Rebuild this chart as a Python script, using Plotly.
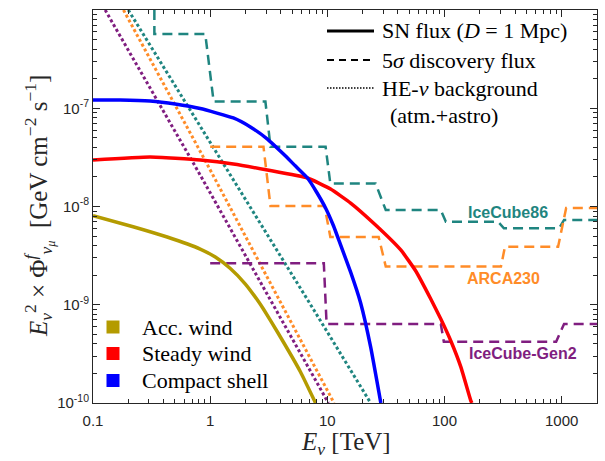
import numpy as np
import plotly.graph_objects as go

# ---------------------------------------------------------------------------
# Supernova neutrino fluxes  E^2 * Phi  [GeV cm^-2 s^-1]  vs  E [TeV]
# ---------------------------------------------------------------------------
acc_wind_E = [0.1, 0.22, 0.4295, 0.822, 1.106, 1.486, 1.997, 2.53, 2.846, 3.75, 5.9, 7.93]
acc_wind_F = [8.06e-9, 6.23e-9, 4.89e-9, 3.69e-9, 3.06e-9, 2.34e-9, 1.626e-9,
              1.117e-9, 9.05e-10, 5.28e-10, 2.07e-10, 1.0e-10]

steady_wind_E = [0.1, 0.307, 0.822, 1.576, 3.08, 6.77, 10.65, 15.8, 25.8, 42.3,
                 56.8, 76.3, 92.96, 113.2, 137.9, 167.9, 171.2]
steady_wind_F = [2.973e-8, 3.19e-8, 2.97e-8, 2.71e-8, 2.35e-8, 1.95e-8, 1.506e-8,
                 1.085e-8, 6.48e-9, 3.61e-9, 2.206e-9, 1.144e-9, 7.16e-10, 4.28e-10,
                 2.32e-10, 1.048e-10, 1.0e-10]

compact_shell_E = [0.1, 0.17, 0.307, 0.503, 0.822, 1.576, 2.203, 3.08, 4.22, 5.35,
                   6.77, 8.08, 9.65, 11.3, 12.97, 15.8, 19.23, 23.4, 28.6]
compact_shell_F = [1.213e-7, 1.213e-7, 1.185e-7, 1.105e-7, 9.94e-8, 7.96e-8, 6.45e-8,
                   4.86e-8, 3.42e-8, 2.58e-8, 1.95e-8, 1.405e-8, 9.66e-9, 6.33e-9,
                   4.06e-9, 2.15e-9, 1.042e-9, 3.72e-10, 1.0e-10]

# 5 sigma discovery fluxes (step-like, vertices along the curve)
ic86_E = [0.334, 0.334, 0.908, 1.07, 2.96, 3.27, 9.66, 10.6, 25.8, 31.5, 92.9, 102.6,
          286, 321, 950, 1047, 2000]
ic86_F = [1.0e-6, 5.7e-7, 5.7e-7, 1.17e-7, 1.17e-7, 4.06e-8, 4.06e-8, 1.71e-8, 1.71e-8,
          9.2e-9, 9.2e-9, 7.0e-9, 7.0e-9, 6.0e-9, 6.0e-9, 7.3e-9, 7.3e-9]

arca_E = [1.0, 2.85, 3.27, 9.46, 10.6, 27.4, 31.5, 303, 328, 931, 1091, 2000]
arca_F = [4.06e-8, 4.06e-8, 1.01e-8, 1.01e-8, 4.9e-9, 4.9e-9, 2.45e-9, 2.45e-9,
          3.9e-9, 3.9e-9, 9.66e-9, 9.66e-9]

gen2_E = [1.0, 9.33, 9.85, 92.9, 98.6, 896, 1047, 2000]
gen2_F = [2.64e-9, 2.64e-9, 6.37e-10, 6.37e-10, 4.2e-10, 4.2e-10, 6.37e-10, 6.37e-10]

# High-energy neutrino background (atm. + astro) for each detector
bkg_ic86_E = [0.2, 1.07, 7.67, 23.4]
bkg_ic86_F = [1.0e-6, 3.98e-8, 8.85e-10, 1.0e-10]

bkg_arca_E = [0.182, 0.94, 11.4]
bkg_arca_F = [1.0e-6, 2.71e-8, 1.0e-10]

bkg_gen2_E = [0.127, 0.82, 10.2]
bkg_gen2_F = [1.0e-6, 2.1e-8, 1.0e-10]

# Axis ticks
x_ticks = [0.1, 1, 10, 100, 1000]
x_ticklabels = ["0.1", "1", "10", "100", "1000"]
y_ticks = [1e-10, 1e-9, 1e-8, 1e-7, 1e-6]
y_ticklabels = ["10<sup>-10</sup>", "10<sup>-9</sup>", "10<sup>-8</sup>",
                "10<sup>-7</sup>", "10<sup>-6</sup>"]

# Detector labels: (text, energy, flux)
det_labels = [("IceCube86", 346, 8.73e-9),
              ("ARCA230", 321, 1.87e-9),
              ("IceCube-Gen2", 465, 3.2e-10)]

TEAL = "#1f8580"
ORANGE = "#ff8c28"
PURPLE = "#801e80"
OLIVE = "#b49b00"
RED = "#ff0000"
BLUE = "#0000ff"
AXIS = "#262626"
SERIF = "Liberation Serif"
SANS = "Liberation Sans"

fig = go.Figure()

# background (dotted)
for E, F, c in [(bkg_gen2_E, bkg_gen2_F, PURPLE),
                (bkg_arca_E, bkg_arca_F, ORANGE),
                (bkg_ic86_E, bkg_ic86_F, TEAL)]:
    fig.add_trace(go.Scatter(x=E, y=F, mode="lines",
                             line=dict(color=c, width=3, dash="3px,2.5px"),
                             showlegend=False, hoverinfo="skip"))

# discovery flux (dashed)
for E, F, c in [(ic86_E, ic86_F, TEAL), (arca_E, arca_F, ORANGE),
                (gen2_E, gen2_F, PURPLE)]:
    fig.add_trace(go.Scatter(x=E, y=F, mode="lines",
                             line=dict(color=c, width=2.5, dash="10px,6px"),
                             showlegend=False, hoverinfo="skip"))

# SN fluxes (solid)
for E, F, c in [(acc_wind_E, acc_wind_F, OLIVE),
                (steady_wind_E, steady_wind_F, RED),
                (compact_shell_E, compact_shell_F, BLUE)]:
    fig.add_trace(go.Scatter(x=E, y=F, mode="lines",
                             line=dict(color=c, width=3.5, shape="spline",
                                       smoothing=0.4),
                             showlegend=False, hoverinfo="skip"))

# detector names
annotations = []
for (txt, e, f), c in zip(det_labels, [TEAL, ORANGE, PURPLE]):
    annotations.append(dict(x=np.log10(e), y=np.log10(f), xref="x", yref="y",
                            text=txt, showarrow=False,
                            font=dict(family=SANS, size=16, color=c, weight="bold")))

# ---- legend: line styles (paper coords of the plot area) ----
def px2paper(px, py):
    return (px - 93) / 504.0, (403 - py) / 393.0

shapes = []
leg_rows = [("solid", 3, 31, "SN flux (<i>D</i> = 1 Mpc)"),
            ("7px,5px", 2, 60, "5<i>σ</i> discovery flux"),
            ("1.5px,1.5px", 1.6, 88, "HE-<i>ν</i> background")]
for dash, w, py, txt in leg_rows:
    x0, y0 = px2paper(327, py)
    x1, _ = px2paper(374, py)
    shapes.append(dict(type="line", xref="paper", yref="paper", x0=x0, x1=x1,
                       y0=y0, y1=y0, line=dict(color="black", width=w, dash=dash)))
    tx, _ = px2paper(380, py)
    annotations.append(dict(x=tx, y=y0, xref="paper", yref="paper", text=txt,
                            xanchor="left", yanchor="middle", showarrow=False,
                            font=dict(family=SERIF, size=22, color="black")))
tx, ty = px2paper(388, 116)
annotations.append(dict(x=tx, y=ty, xref="paper", yref="paper", text="(atm.+astro)",
                        xanchor="left", yanchor="middle", showarrow=False,
                        font=dict(family=SERIF, size=22, color="black")))

# ---- legend: model colours ----
for py, c, txt in [(327, OLIVE, "Acc. wind"), (353.5, RED, "Steady wind"),
                   (380.5, BLUE, "Compact shell")]:
    x0, y0 = px2paper(106.5, py - 6.5)
    x1, y1 = px2paper(119.5, py + 6.5)
    shapes.append(dict(type="rect", xref="paper", yref="paper", x0=x0, x1=x1,
                       y0=y1, y1=y0, line=dict(width=0), fillcolor=c))
    tx, ty = px2paper(140, py)
    annotations.append(dict(x=tx, y=ty, xref="paper", yref="paper", text=txt,
                            xanchor="left", yanchor="middle", showarrow=False,
                            font=dict(family=SERIF, size=22, color="black")))

# axis titles
annotations.append(dict(x=0.502, y=-0.102, xref="paper", yref="paper",
                        text="<i>E</i><sub><i>ν</i></sub> [TeV]", showarrow=False,
                        xanchor="center", yanchor="middle",
                        font=dict(family=SERIF, size=25, color=AXIS)))
annotations.append(dict(x=-0.108, y=0.5, xref="paper", yref="paper", textangle=-90,
                        text="<i>E</i><sub><i>ν</i></sub><sup>2</sup> × Φ<sup><i>f</i></sup>"
                             "<sub><i>ν</i><sub><i>μ</i></sub></sub>  "
                             "[GeV cm<sup>−2</sup> s<sup>−1</sup>]",
                        showarrow=False, xanchor="center", yanchor="middle",
                        font=dict(family=SERIF, size=25, color=AXIS)))

minor_x = [m * 10.0 ** d for d in range(-1, 4) for m in range(2, 10)]
minor_y = [m * 10.0 ** d for d in range(-10, -6) for m in range(2, 10)]

axis_common = dict(type="log", showgrid=False, zeroline=False, showline=True,
                   linecolor=AXIS, linewidth=1, mirror="allticks", ticks="inside",
                   ticklen=7, tickwidth=1, tickcolor=AXIS, tickmode="array",
                   tickfont=dict(family=SANS, size=15, color=AXIS))

fig.update_layout(
    width=605, height=461,
    margin=dict(l=93, r=8, t=10, b=58),
    paper_bgcolor="white", plot_bgcolor="white",
    xaxis=dict(range=[-1, np.log10(2000)], tickvals=x_ticks, ticktext=x_ticklabels,
               ticklabelstandoff=4,
               minor=dict(tickvals=minor_x, ticks="inside", ticklen=4,
                          tickcolor=AXIS, showgrid=False),
               **axis_common),
    yaxis=dict(range=[-10, -6], tickvals=y_ticks, ticktext=y_ticklabels,
               minor=dict(tickvals=minor_y, ticks="inside", ticklen=4,
                          tickcolor=AXIS, showgrid=False),
               **axis_common),
    shapes=shapes,
    annotations=annotations,
    showlegend=False,
)

fig.write_html("out.html")
